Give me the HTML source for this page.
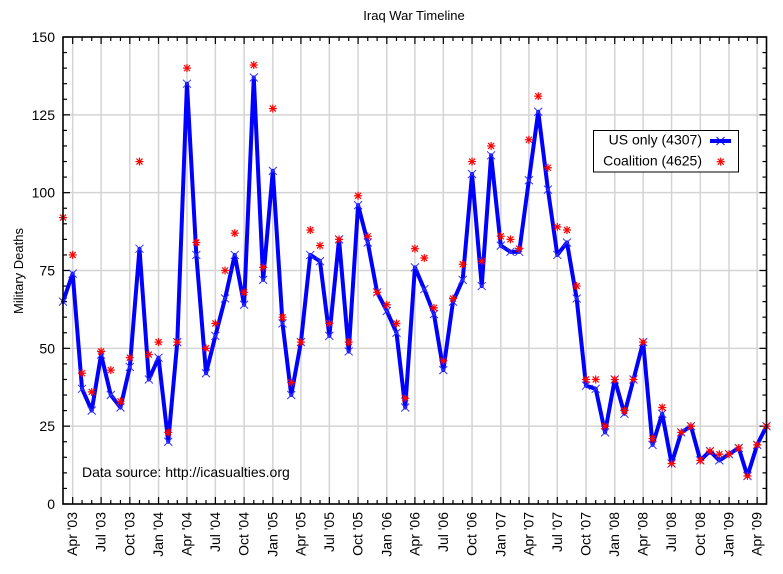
<!DOCTYPE html>
<html><head><meta charset="utf-8"><style>
html,body{margin:0;padding:0;background:#fff;}
svg{display:block;font-family:"Liberation Sans",Arial,sans-serif;}
</style></head><body>
<svg id="c" width="783" height="574" viewBox="0 0 783 574" xmlns="http://www.w3.org/2000/svg">
<rect x="0" y="0" width="783" height="574" fill="#fff"/>
<g id="grid"></g>
<g id="ticks"></g>
<g id="series"></g>
<rect x="63" y="37" width="703.5" height="467" fill="none" stroke="#000" stroke-width="1.6"/>
<g id="labels" font-size="14" fill="#000"></g>
<text x="414" y="20" font-size="13" text-anchor="middle">Iraq War Timeline</text>
<text transform="translate(23,271) rotate(-90)" font-size="13" text-anchor="middle">Military Deaths</text>
<text x="82" y="477" font-size="14">Data source: http://icasualties.org</text>
<rect x="593.5" y="130.5" width="145" height="41.5" fill="#fff" stroke="#000" stroke-width="1"/>
<text x="702" y="144.5" font-size="14" text-anchor="end">US only (4307)</text>
<text x="702" y="165.5" font-size="14" text-anchor="end">Coalition (4625)</text>
<line x1="710" y1="141" x2="731" y2="141" stroke="#0000ff" stroke-width="4"/>
<g stroke="#0000ff" stroke-width="1"><line x1="716.5" y1="137" x2="724.5" y2="145"/><line x1="716.5" y1="145" x2="724.5" y2="137"/></g>
<g stroke="#ff0000" stroke-width="1.2"><line x1="716.7" y1="161.7" x2="724.7" y2="161.7"/><line x1="720.7" y1="157.7" x2="720.7" y2="165.7"/><line x1="717.7" y1="158.7" x2="723.7" y2="164.7"/><line x1="717.7" y1="164.7" x2="723.7" y2="158.7"/></g>
</svg>
<script>
(function(){
var NS="http://www.w3.org/2000/svg";
function el(p,t,a,txt){var e=document.createElementNS(NS,t);for(var k in a)e.setAttribute(k,a[k]);if(txt!==undefined)e.textContent=txt;p.appendChild(e);return e;}
var us=[65,74,37,30,48,35,31,44,82,40,
47,20,52,135,80,42,54,66,80,64,137,72,
107,58,35,52,80,78,54,85,49,96,84,68,
62,55,31,76,69,61,43,65,72,106,70,112,
83,81,81,104,126,101,80,84,66,38,37,23,
40,29,40,52,19,29,13,23,25,14,17,14,
16,18,9,19,25];
var co=[92,80,42,36,49,43,33,47,110,48,
52,23,52,140,84,50,58,75,87,68,141,76,
127,60,39,52,88,83,58,85,52,99,86,68,
64,58,34,82,79,63,46,66,77,110,78,115,
86,85,82,117,131,108,89,88,70,40,40,25,
40,30,40,52,21,31,13,23,25,14,17,16,
16,18,9,19,25];
function mlen(y,m){return [31,(y%4==0?29:28),31,30,31,30,31,31,30,31,30,31][m];}
var days=[],d=0,y=2003,m=2,names=["Jan","Feb","Mar","Apr","May","Jun","Jul","Aug","Sep","Oct","Nov","Dec"],info=[];
while(!(y==2009&&m==5)){days.push(d);info.push([y,m]);d+=mlen(y,m);m++;if(m==12){m=0;y++;}}
var total=days[days.length-1];
var X0=63,X1=766.5,Y0=504,Y1=37;
function X(dd){return X0+dd*(X1-X0)/total;}
function Y(v){return Y0-v*(Y0-Y1)/150;}
var grid=document.getElementById("grid"),ticks=document.getElementById("ticks"),labels=document.getElementById("labels"),series=document.getElementById("series");
for(var v=25;v<150;v+=25){el(grid,"line",{x1:X0,x2:X1,y1:Y(v),y2:Y(v),stroke:"#d4d4d4","stroke-width":1.5});}
for(var v=0;v<=150;v+=5){var yy=Y(v),L=(v%25==0)?7:4;
el(ticks,"line",{x1:X0,x2:X0+L,y1:yy,y2:yy,stroke:"#000","stroke-width":1.2});
el(ticks,"line",{x1:X1-L,x2:X1,y1:yy,y2:yy,stroke:"#000","stroke-width":1.2});
if(v%25==0)el(labels,"text",{x:55,y:yy+5,"text-anchor":"end"},String(v));}
for(var i=0;i<days.length;i++){var xx=X(days[i]),yr=info[i][0],mo=info[i][1];var major=(mo%3==0);var L=major?7:4;
if(i>0&&i<days.length-1){
el(ticks,"line",{x1:xx,x2:xx,y1:Y0,y2:Y0-L,stroke:"#000","stroke-width":1.2});
el(ticks,"line",{x1:xx,x2:xx,y1:Y1,y2:Y1+L,stroke:"#000","stroke-width":1.2});}
if(major){el(grid,"line",{x1:xx,x2:xx,y1:Y1,y2:Y0,stroke:"#d4d4d4","stroke-width":1.5});
var yy2=String(yr).slice(2);
el(labels,"text",{transform:"translate("+(xx+4.5)+",512) rotate(-90)","text-anchor":"end"},names[mo]+" '"+yy2);}}
var pts=[];for(var i=0;i<us.length;i++)pts.push(X(days[i]).toFixed(2)+","+Y(us[i]).toFixed(2));
el(series,"polyline",{points:pts.join(" "),fill:"none",stroke:"#0000ff","stroke-width":4,"stroke-linejoin":"round","stroke-linecap":"round"});
var gb=el(series,"g",{stroke:"#3333ff","stroke-width":1});
for(var i=0;i<us.length;i++){var xx=X(days[i]),yy=Y(us[i]);
el(gb,"line",{x1:xx-4,y1:yy-4,x2:xx+4,y2:yy+4});el(gb,"line",{x1:xx-4,y1:yy+4,x2:xx+4,y2:yy-4});}
var gr=el(series,"g",{stroke:"#ff0000","stroke-width":1.2});
for(var i=0;i<co.length;i++){var xx=X(days[i]),yy=Y(co[i]);
el(gr,"line",{x1:xx-4,y1:yy,x2:xx+4,y2:yy});el(gr,"line",{x1:xx,y1:yy-4,x2:xx,y2:yy+4});
el(gr,"line",{x1:xx-3,y1:yy-3,x2:xx+3,y2:yy+3});el(gr,"line",{x1:xx-3,y1:yy+3,x2:xx+3,y2:yy-3});}
})();
</script>
</body></html>
